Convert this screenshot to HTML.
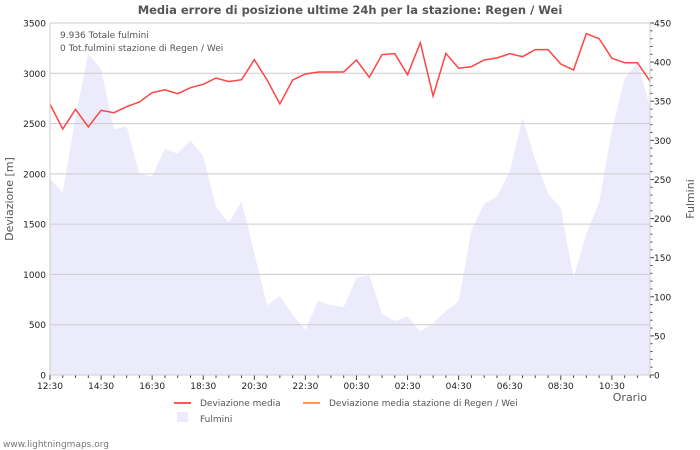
<!DOCTYPE html>
<html><head><meta charset="utf-8"><style>
body{margin:0;background:#fff;}
svg{display:block;font-family:"DejaVu Sans","Liberation Sans",sans-serif;}
</style></head><body>
<svg id="c" width="700" height="450">
<text x="350" y="14" text-anchor="middle" font-size="11.5" font-weight="bold" fill="#555">Media errore di posizione ultime 24h per la stazione: Regen / Wei</text>
<g id="area"></g>
<g id="grid"></g>
<g id="line"></g>
<g id="axes"></g>
<text x="60" y="38" font-size="9" fill="#555">9.936 Totale fulmini</text>
<text x="60" y="51" font-size="9" fill="#555">0 Tot.fulmini stazione di Regen / Wei</text>
<text transform="translate(13,199) rotate(-90)" text-anchor="middle" font-size="11" fill="#555">Deviazione  [m]</text>
<text transform="translate(694,199) rotate(-90)" text-anchor="middle" font-size="11" fill="#555">Fulmini</text>
<text x="647" y="401" text-anchor="end" font-size="11" fill="#555">Orario</text>
<g>
<line x1="174" y1="403" x2="191" y2="403" stroke="#f55" stroke-width="2"/>
<text x="200" y="406" font-size="9" fill="#555">Deviazione media</text>
<line x1="303" y1="403" x2="320" y2="403" stroke="#f95" stroke-width="2"/>
<text x="329" y="406" font-size="9" fill="#555">Deviazione media stazione di Regen / Wei</text>
<rect x="177" y="412" width="11" height="10" fill="#ebebfc"/>
<text x="200" y="422" font-size="9" fill="#555">Fulmini</text>
</g>
<text x="3" y="447" font-size="9" fill="#777">www.lightningmaps.org</text>
</svg>
<script>
const deviazione=[2692,2446,2642,2466,2632,2608,2668,2715,2807,2836,2797,2857,2890,2953,2917,2936,3135,2933,2695,2933,2993,3013,3013,3013,3132,2960,3185,3195,2986,3304,2774,3198,3050,3066,3132,3152,3195,3165,3235,3235,3092,3033,3394,3344,3149,3105,3105,2923];
const fulmini=[251,233,330,411,391,314,318,257,254,289,283,300,280,214,195,222,156,89,101,77,58,95,89,87,124,128,78,69,75,56,66,82,94,185,219,228,260,329,275,232,213,124,181,220,313,379,399,343];
const leftTicks=[0,500,1000,1500,2000,2500,3000,3500];
const rightTicks=[0,50,100,150,200,250,300,350,400,450];
const xLabels=["12:30","14:30","16:30","18:30","20:30","22:30","00:30","02:30","04:30","06:30","08:30","10:30"];
const X0=50,X1=650,Y0=375,Y1=23,STEP=12.77;
const xs=i=>X0+i*STEP;
const yl=v=>Y0-(v/3500)*(Y0-Y1);
const yr=v=>Y0-(v/450)*(Y0-Y1);
const NS="http://www.w3.org/2000/svg";
function mk(t,a,p){const e=document.createElementNS(NS,t);for(const k in a)e.setAttribute(k,a[k]);p.appendChild(e);return e;}
const grid=document.getElementById('grid'),axes=document.getElementById('axes');
leftTicks.forEach(v=>{
 const g=mk('line',{x1:X0,x2:X1,y1:yl(v),y2:yl(v),stroke:'#ccc','stroke-width':1},grid);
 
 
 const t=mk('text',{x:X0-4,y:yl(v)+3.5,'text-anchor':'end','font-size':9,fill:'#222'},axes);
 t.textContent=v;
 
 
});
rightTicks.forEach(v=>{
 const t=mk('text',{x:X1+4,y:yr(v)+3.5,'font-size':9,fill:'#222'},axes);
 t.textContent=v;
 
 
});
for(let v=0;v<=450;v+=10){mk('line',{x1:X1,x2:X1+(v%50==0?4:2.5),y1:yr(v),y2:yr(v),stroke:'#444'},axes);}
for(let i=0;i<48;i++){const x=xs(i);mk('line',{x1:x,x2:x,y1:Y0,y2:Y0+(i%4==0?5:3),stroke:'#444'},axes);}
xLabels.forEach((l,k)=>{
 const t=mk('text',{x:xs(k*4),y:Y0+14,'text-anchor':'middle','font-size':9,fill:'#222'},axes);
 t.textContent=l;
 
 
});
mk('line',{x1:X0,x2:X0,y1:Y1,y2:Y0,stroke:'#ccc'},axes);
mk('line',{x1:X1,x2:X1,y1:Y1,y2:Y0,stroke:'#ccc'},axes);
mk('line',{x1:X0,x2:X1,y1:Y0,y2:Y0,stroke:'#ccc'},axes);
let d='M'+X0+','+Y0;
fulmini.forEach((v,i)=>{d+=' L'+Math.min(xs(i),X1)+','+yr(v);});
d+=' L'+Math.min(xs(fulmini.length-1),X1)+','+Y0+' Z';
const a=mk('path',{d:d,fill:'#ebebfc'},document.getElementById('area'));


const pts=deviazione.map((v,i)=>Math.min(xs(i),X1)+','+yl(v)).join(' ');
const l=mk('polyline',{points:pts,fill:'none',stroke:'#f44','stroke-width':1.5},document.getElementById('line'));


</script>
</body></html>
